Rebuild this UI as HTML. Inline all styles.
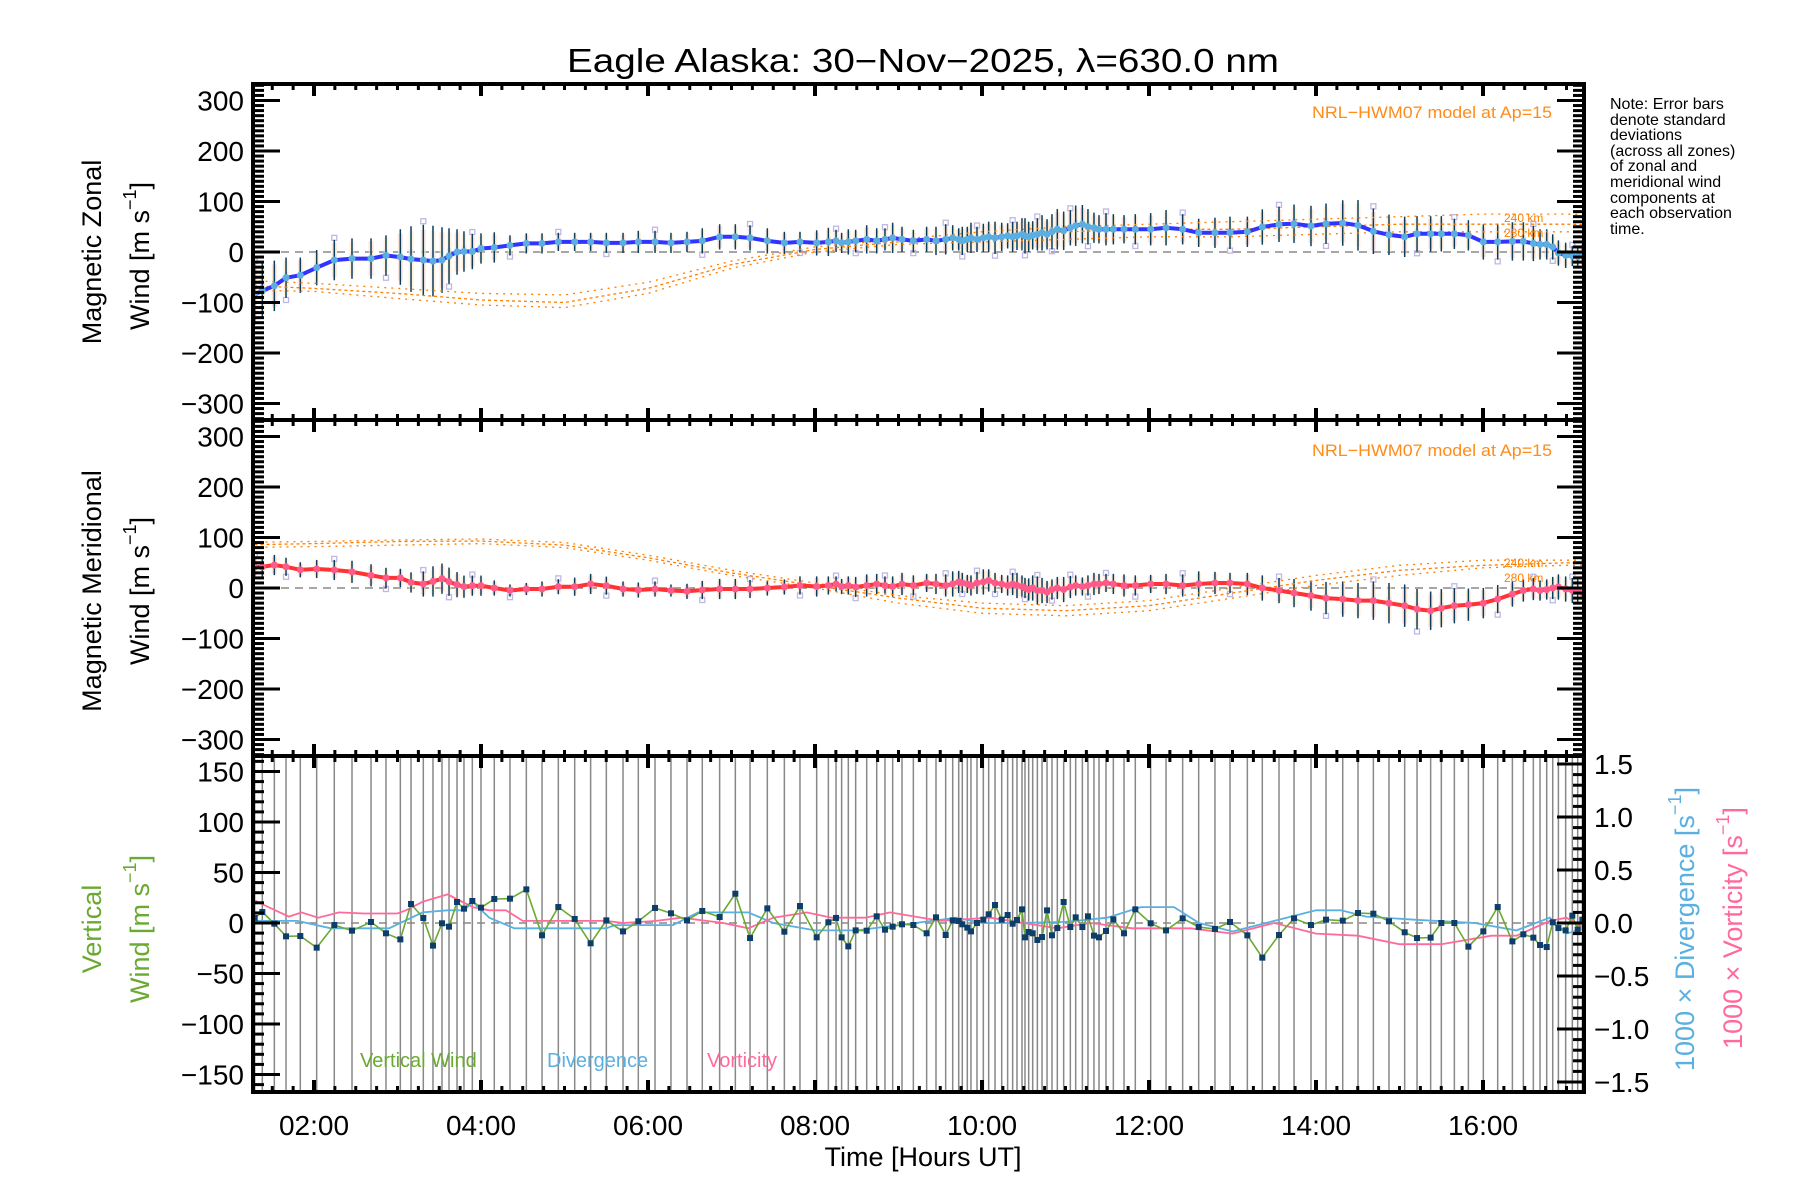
<!DOCTYPE html>
<html><head><meta charset="utf-8">
<style>
html,body{margin:0;padding:0;background:#fff;}
svg{display:block;font-family:"Liberation Sans",sans-serif;}
</style></head>
<body>
<svg id="chart" width="1800" height="1200" viewBox="0 0 1800 1200" xmlns="http://www.w3.org/2000/svg">
<rect width="1800" height="1200" fill="#fff"/>
<text x="923" y="72" font-size="33" text-anchor="middle" textLength="712" lengthAdjust="spacingAndGlyphs">Eagle Alaska: 30−Nov−2025, λ=630.0 nm</text>
<g id="panels"></g>
<g font-size="16">
<text x="1610" y="109">Note: Error bars</text>
<text x="1610" y="125">denote standard</text>
<text x="1610" y="140">deviations</text>
<text x="1610" y="156">(across all zones)</text>
<text x="1610" y="171">of zonal and</text>
<text x="1610" y="187">meridional wind</text>
<text x="1610" y="203">components at</text>
<text x="1610" y="218">each observation</text>
<text x="1610" y="234">time.</text>
</g>
<text x="1312" y="118" font-size="17" fill="#ff8c1a" textLength="240" lengthAdjust="spacingAndGlyphs">NRL−HWM07 model at Ap=15</text>
<text x="1312" y="456" font-size="17" fill="#ff8c1a" textLength="240" lengthAdjust="spacingAndGlyphs">NRL−HWM07 model at Ap=15</text>
<text x="1504" y="222" font-size="12" fill="#ff7f00">240 km</text>
<text x="1504" y="237" font-size="12" fill="#ff7f00">280 km</text>
<text x="1504" y="567" font-size="12" fill="#ff7f00">240 km</text>
<text x="1504" y="582" font-size="12" fill="#ff7f00">280 km</text>
<text transform="translate(92,252) rotate(-90)" font-size="27" text-anchor="middle" dominant-baseline="central">Magnetic Zonal</text>
<text transform="translate(140,256) rotate(-90)" font-size="27" text-anchor="middle" dominant-baseline="central">Wind [m s<tspan font-size="18" dy="-10">−1</tspan><tspan dy="10">]</tspan></text>
<text transform="translate(92,591) rotate(-90)" font-size="27" text-anchor="middle" dominant-baseline="central">Magnetic Meridional</text>
<text transform="translate(140,591) rotate(-90)" font-size="27" text-anchor="middle" dominant-baseline="central">Wind [m s<tspan font-size="18" dy="-10">−1</tspan><tspan dy="10">]</tspan></text>
<text transform="translate(92,929) rotate(-90)" font-size="27" fill="#6aaa30" text-anchor="middle" dominant-baseline="central">Vertical</text>
<text transform="translate(140,929) rotate(-90)" font-size="27" fill="#6aaa30" text-anchor="middle" dominant-baseline="central">Wind [m s<tspan font-size="18" dy="-10">−1</tspan><tspan dy="10">]</tspan></text>
<text transform="translate(1685,929) rotate(-90)" font-size="27" fill="#5ab0e0" text-anchor="middle" dominant-baseline="central">1000 × Divergence [s<tspan font-size="18" dy="-10">−1</tspan><tspan dy="10">]</tspan></text>
<text transform="translate(1733,928) rotate(-90)" font-size="27" fill="#ff6a9a" text-anchor="middle" dominant-baseline="central">1000 × Vorticity [s<tspan font-size="18" dy="-10">−1</tspan><tspan dy="10">]</tspan></text>
<text x="923" y="1166" font-size="27" text-anchor="middle">Time [Hours UT]</text>
<text x="360" y="1067" font-size="20" fill="#6aaa30">Vertical Wind</text>
<text x="547" y="1067" font-size="20" fill="#5ab0e0">Divergence</text>
<text x="707" y="1067" font-size="20" fill="#ff6a9a">Vorticity</text>
</svg>
<script>
// ---- data ----
const obsTimes = [1.29,1.381,1.525,1.665,1.836,2.032,2.243,2.455,2.683,2.862,3.034,3.162,3.309,3.425,3.533,3.617,3.713,3.796,3.896,4.000,4.159,4.347,4.543,4.731,4.926,5.122,5.313,5.501,5.701,5.884,6.084,6.275,6.467,6.650,6.858,7.046,7.222,
7.429,7.633,7.820,8.020,8.160,8.252,8.319,8.399,8.487,8.619,8.739,8.838,8.930,9.042,9.178,9.337,9.449,9.565,9.649,9.721,9.764,9.824,9.868,9.940,10.016,10.080,10.156,10.236,10.307,10.367,10.419,10.479,10.515,10.559,10.607,10.663,10.719,10.779,10.838,10.902,10.978,11.058,11.122,11.202,11.269,11.341,11.401,11.485,11.573,11.701,11.836,12.020,12.204,12.403,12.595,12.790,12.970,13.178,
13.357,13.557,13.737,13.940,14.120,14.320,14.503,14.687,14.874,15.062,15.210,15.373,15.501,15.657,15.825,16.004,16.176,16.352,16.483,16.603,16.683,16.763,16.835,16.903,16.990,17.070,17.134,17.190];
const verticalWind = [5,10.9,-0.7,-13.2,-12.9,-24.4,-2,-7.6,1,-10.2,-16.2,18.8,5,-22.4,-0.3,-3.6,20.8,14.2,21.8,15.2,23.8,24.1,33.3,-12.2,15.8,4,-20.1,2.6,-8.3,1.7,14.9,9.6,2.6,11.9,5.9,29,-14.9,
14.5,-8.6,16.8,-14.2,0.7,5,-14.2,-23.1,-7.3,-7.6,6.6,-6.6,-3.6,-1.3,-2,-10.2,5.6,-11.9,2.6,2,-1.3,-4.6,-8.3,0,3.3,8.6,17.8,3.3,7.9,-0.7,3,13.5,-14.2,-8.9,-10.2,-16.8,-13.9,12.5,-12.2,-5,20.8,-4,5.6,-4,6.6,-12.5,-14.2,-7.9,3.6,-10.2,13.5,-0.3,-7.3,4.6,-4,-5.9,1,-12.2,
-34.3,-11.9,4.6,-2,3.3,2.3,9.9,9.2,1.7,-9.2,-14.9,-14.5,0,0,-23.4,-8.3,15.8,-18.2,-11.2,-14.5,-21.8,-23.8,0.7,-5,-7.3,7.3,-6.6,3.3];
const zonalWind = [-84,-77,-67,-51,-46,-31,-16,-13,-13,-7,-10,-14,-16,-18,-16,-8,0,1,1,7,9,13,17,17,20,20,20,18,18,20,20,18,20,22,30,30,28,
22,18,20,18,20,22,18,20,22,25,22,25,28,25,22,25,22,25,28,25,22,25,28,25,28,30,28,30,32,30,32,35,32,30,33,35,38,35,40,45,42,48,52,55,50,48,45,45,45,45,45,45,48,45,38,38,38,40,
49.5,54.8,56,51.5,56,57.4,52.8,41,34,30,36,36,36,36,33,20,20,21,21,17,15,15,10,-2,-6.6,-8,-9,-5];
const zonalSd = [60,55,50,40,35,35,40,40,40,40,55,65,70,70,65,55,45,40,35,30,30,20,20,20,18,18,18,20,20,22,22,20,20,25,25,25,25,
25,22,20,25,28,22,20,25,22,28,25,22,30,25,22,25,28,30,25,22,28,25,30,25,28,30,32,28,25,30,28,32,35,30,28,32,35,30,35,40,38,35,40,38,35,30,28,32,30,28,30,32,35,30,28,30,32,30,
35,35,38,40,40,45,50,45,40,40,35,35,35,30,30,35,35,38,38,35,30,30,25,25,25,20,20,20];
const meridionalWind = [42,42,45.5,42,36,37.6,35.6,32,25,20,20,11,8,13,18.5,12.5,6.6,2.6,4.6,4.6,0,-5,-2,-2,2.6,2.6,8,4.6,-2,-4,-2,-5,-6.6,-4,-2,-2,-2,
0,2,5,3,5,8,3,5,2,5,8,5,3,8,5,10,8,5,8,12,10,8,5,10,12,15,10,8,5,8,5,3,0,-3,0,-5,-5,-8,-3,0,-3,2,5,3,5,8,8,10,8,5,5,8,8,5,8,10,10,8,
0,-5,-10,-15,-20,-22,-25,-25,-30,-35,-42,-45,-40,-35,-33,-30,-22,-12,-5,-2,-5,-3,0,2,-2,-5,-5,-10];
const meridionalSd = [20,20,20,18,15,18,20,22,22,20,18,20,25,30,30,28,25,22,20,20,15,12,12,15,15,18,20,18,15,15,15,12,15,18,20,20,18,
15,15,18,20,18,15,15,18,20,22,20,18,20,22,20,18,20,22,25,22,20,18,20,22,25,22,20,18,20,22,25,22,20,22,25,28,25,22,20,22,25,22,20,18,20,22,20,18,20,22,20,18,20,22,25,22,20,
22,25,25,28,30,32,35,35,38,40,42,40,38,38,35,32,30,28,25,22,22,20,20,22,25,25,25,25];
const divTimes = [1.27,1.5,1.8,2.2,2.9,3.3,3.6,3.8,3.9,4.1,4.4,5.5,5.6,6.3,6.6,7.2,7.5,8.0,8.5,9.2,9.7,10.0,10.4,11.0,11.5,11.9,12.3,12.6,13.0,13.4,14.0,14.3,14.6,15.2,15.9,16.4,16.8,17.0,17.21];
const divergence = [0.02,0.02,0.02,-0.05,-0.05,0.1,0.12,0.12,0.2,0.05,-0.05,-0.05,-0.02,-0.02,0.1,0.1,0.0,-0.07,-0.07,0.0,0.05,0.0,0.0,0.01,0.05,0.15,0.15,0.0,-0.08,0.0,0.12,0.12,0.06,0.03,0.0,-0.07,0.05,-0.1,-0.05];
const vortTimes = [1.27,1.4,1.7,1.85,2.05,2.3,2.6,3.0,3.1,3.3,3.6,3.9,4.1,4.3,4.5,5.5,5.7,6.1,6.4,6.9,7.2,7.5,7.9,8.2,8.6,8.9,9.5,10.1,10.9,11.3,11.8,12.5,13.0,13.5,14.0,14.5,15.0,15.5,16.1,16.4,16.8,17.0,17.21];
const vorticity = [0.22,0.17,0.06,0.1,0.05,0.1,0.09,0.09,0.12,0.2,0.27,0.15,0.12,0.12,0.02,0.02,0.0,0.02,0.05,0.0,-0.05,0.05,0.1,0.05,0.05,0.1,0.02,0.05,-0.05,0.0,-0.05,-0.05,-0.1,0.0,-0.1,-0.12,-0.2,-0.2,-0.12,-0.12,0.02,0.05,-0.05];
const modelHours = [1,2,3,4,5,6,7,8,9,10,11,12,13,14,15,16,17,18];
const zonalModelA = [-55,-62,-72,-82,-85,-60,-18,10,25,40,50,55,60,65,70,75,75,72];
const zonalModelB = [-65,-72,-82,-95,-100,-72,-25,5,20,30,40,45,45,50,55,55,55,52];
const zonalModelC = [-75,-78,-92,-105,-110,-82,-32,0,15,20,25,30,30,35,40,40,40,38];
const merModelA = [90,92,95,97,90,65,35,10,-15,-30,-35,-25,0,25,45,55,55,55];
const merModelB = [85,88,92,93,85,60,30,5,-20,-40,-45,-35,-10,15,35,45,50,50];
const merModelC = [80,82,85,88,80,55,25,0,-30,-50,-55,-45,-20,5,25,40,45,45];
const zonalTicks = [-300,-200,-100,0,100,200,300];
const vertTicks = [-150,-100,-50,0,50,100,150];
const rightTicks = [-1.5,-1.0,-0.5,0.0,0.5,1.0,1.5];
const timeTicks = [2,4,6,8,10,12,14,16];
const timeLabels = ["02:00","04:00","06:00","08:00","10:00","12:00","14:00","16:00"];

// ---- scales ----
const NS = "http://www.w3.org/2000/svg";
const X0 = 253, X1 = 1584;
const T0 = 2 + (X0 - 314) / 83.5, T1 = 2 + (X1 - 314) / 83.5;
function xs(t){ return 314 + (t - 2) * 83.5; }
const P = {
  zonal: {y0:84, y1:420, zero:252, k:0.505},
  mer:   {y0:420, y1:756, zero:588, k:0.505},
  vert:  {y0:756, y1:1092, zero:923, k:1.01}
};
function ys(p, v){ return p.zero - v * p.k; }
function yr(v){ return 923 - v * 106; }
const root = document.getElementById('panels');
function mk(tag, attrs, parent){
  const e = document.createElementNS(NS, tag);
  for (const k in attrs) e.setAttribute(k, attrs[k]);
  (parent || root).appendChild(e);
  return e;
}
function fmtR(v){ return (v < 0 ? "−" : "") + Math.abs(v).toFixed(1); }
function fmtI(v){ return (v < 0 ? "−" : "") + Math.abs(v); }

const defs = mk('defs', {});
['zonal','mer','vert'].forEach(function(key){
  const p = P[key];
  const cp = mk('clipPath', {id:'clip-'+key}, defs);
  mk('rect', {x:X0, y:p.y0, width:X1-X0, height:p.y1-p.y0}, cp);
});

// ---- wind panels ----
function windPanel(key, values, sds, models, lineColor, dotColor, name){
  const p = P[key];
  const g = mk('g', {'clip-path':'url(#clip-'+key+')'});
  
  
  const zl = mk('line', {x1:X0, x2:X1, y1:p.zero, y2:p.zero, stroke:'#888', 'stroke-width':1.5, 'stroke-dasharray':'8 6'}, g);
  
  
  const zoneCols = ['#fbd2c0','#fde8c0','#d8f4d8','#d8d8f4'];
  for (let i = 0; i < obsTimes.length; i++){
    const x = xs(obsTimes[i]);
    const v = values[i], s = sds[i];
    const box = mk('rect', {x:x-2.5, y:ys(p, v + s*0.85), width:5, height:s*1.7*p.k, fill:zoneCols[i%2], opacity:0.55}, g);
    
    
    const box2 = mk('rect', {x:x-2.5, y:ys(p, v + s*0.3), width:5, height:s*0.4*p.k, fill:zoneCols[2 + (i%2)], opacity:0.5}, g);
    
    
    if (i % 3 === 0){
      const sq = mk('rect', {x:x-2.5, y:ys(p, v + (i%2 ? -1.1 : 1.1)*s)-2.5, width:5, height:5, fill:'none', stroke:'#c0b8e4', 'stroke-width':1.3}, g);
      
      
    }
    const eb = mk('line', {x1:x, x2:x, y1:ys(p, v + s), y2:ys(p, v - s), stroke:'#0d3d5c', 'stroke-width':1.5}, g);
    
    
  }
  models.forEach(function(m, mi){
    const d = m.map(function(v, j){ return (j ? 'L' : 'M') + xs(modelHours[j]).toFixed(1) + ',' + ys(p, v).toFixed(1); }).join(' ');
    const ml = mk('path', {d:d, fill:'none', stroke:'#ff7f00', 'stroke-width':1.3, 'stroke-dasharray': mi === 1 ? '3 3' : '2 5'}, g);
    
    
  });
  const d = values.map(function(v, i){ return (i ? 'L' : 'M') + xs(obsTimes[i]).toFixed(1) + ',' + ys(p, v).toFixed(1); }).join(' ');
  const ln = mk('path', {d:d, fill:'none', stroke:lineColor, 'stroke-width':4, 'stroke-linejoin':'round'}, g);
  
  
  for (let i = 0; i < obsTimes.length; i++){
    const c = mk('circle', {cx:xs(obsTimes[i]), cy:ys(p, values[i]), r:3.5, fill:dotColor}, g);
    
    
  }
}
windPanel('zonal', zonalWind, zonalSd, [zonalModelA, zonalModelB, zonalModelC], '#3333ff', '#5aaee0', 'zonal');
windPanel('mer', meridionalWind, meridionalSd, [merModelA, merModelB, merModelC], '#ff3333', '#ff5a8a', 'meridional');

// ---- vertical panel ----
(function(){
  const p = P.vert;
  const g = mk('g', {'clip-path':'url(#clip-vert)'});
  
  
  for (let i = 0; i < obsTimes.length; i++){
    const x = xs(obsTimes[i]);
    const vl = mk('line', {x1:x, x2:x, y1:p.y0, y2:p.y1, stroke:'#888', 'stroke-width':1.5}, g);
    
    
  }
  const zl = mk('line', {x1:X0, x2:X1, y1:p.zero, y2:p.zero, stroke:'#888', 'stroke-width':1.5, 'stroke-dasharray':'8 6'}, g);
  
  
  const dd = divergence.map(function(v, i){ return (i ? 'L' : 'M') + xs(divTimes[i]).toFixed(1) + ',' + yr(v).toFixed(1); }).join(' ');
  const dl = mk('path', {d:dd, fill:'none', stroke:'#5ab0e0', 'stroke-width':1.8}, g);
  
  
  const vd = vorticity.map(function(v, i){ return (i ? 'L' : 'M') + xs(vortTimes[i]).toFixed(1) + ',' + yr(v).toFixed(1); }).join(' ');
  const vl2 = mk('path', {d:vd, fill:'none', stroke:'#ff6a9a', 'stroke-width':1.8}, g);
  
  
  const wd = verticalWind.map(function(v, i){ return (i ? 'L' : 'M') + xs(obsTimes[i]).toFixed(1) + ',' + ys(p, v).toFixed(1); }).join(' ');
  const wl = mk('path', {d:wd, fill:'none', stroke:'#6aaa30', 'stroke-width':1.6}, g);
  
  
  for (let i = 0; i < obsTimes.length; i++){
    const r = mk('rect', {x:xs(obsTimes[i])-3, y:ys(p, verticalWind[i])-3, width:6, height:6, fill:'#0d3d6b'}, g);
    
    
  }
})();

// ---- axes ----
function axes(key, name){
  const p = P[key];
  const g = mk('g', {stroke:'#000'});
  
  
  for (let t = Math.ceil(T0*4)/4; t <= T1; t += 0.25){
    const x = xs(t);
    const major = Math.abs(t/2 - Math.round(t/2)) < 1e-6;
    const L = major ? 12 : 6;
    const w = major ? 4 : 3;
    const a = mk('line', {x1:x, x2:x, y1:p.y0, y2:p.y0+L, 'stroke-width':w}, g);
    
    
    const b = mk('line', {x1:x, x2:x, y1:p.y1, y2:p.y1-L, 'stroke-width':w}, g);
    
    
  }
  const vmax = (p.zero - p.y0) / p.k;
  const minorStep = 10;
  const majorStep = key === 'vert' ? 50 : 100;
  for (let v = Math.ceil(-vmax/minorStep)*minorStep; v <= vmax; v += minorStep){
    const y = ys(p, v);
    const major = v % majorStep === 0;
    const L = major ? 27 : 11;
    const lt = mk('line', {x1:X0, x2:X0+L, y1:y, y2:y, 'stroke-width':3}, g);
    
    
    if (key !== 'vert'){
      const rt = mk('line', {x1:X1, x2:X1-L, y1:y, y2:y, 'stroke-width':3}, g);
      
      
    }
  }
  if (key === 'vert'){
    for (let r = -15; r <= 15; r++){
      const y = yr(r/10);
      if (y < p.y0 || y > p.y1) continue;
      const L = (r % 5 === 0) ? 27 : 11;
      const rt = mk('line', {x1:X1, x2:X1-L, y1:y, y2:y, 'stroke-width':3}, g);
      
      
    }
  }
  const fr = mk('rect', {x:X0, y:p.y0, width:X1-X0, height:p.y1-p.y0, fill:'none', 'stroke-width':4}, g);
  
  
  const ticks = key === 'vert' ? vertTicks : zonalTicks;
  ticks.forEach(function(v){
    const tx = mk('text', {x:244, y:ys(p, v)+10, 'font-size':28, 'text-anchor':'end', stroke:'none'});
    tx.textContent = fmtI(v);
    
    
  });
}
axes('zonal', 'zonal');
axes('mer', 'meridional');
axes('vert', 'vertical');

rightTicks.forEach(function(v){
  const tx = mk('text', {x:1594, y:yr(v)+10, 'font-size':28});
  tx.textContent = fmtR(v);
  
  
});
timeTicks.forEach(function(t, i){
  const tx = mk('text', {x:xs(t), y:1135, 'font-size':28, 'text-anchor':'middle'});
  tx.textContent = timeLabels[i];
  
  
});
</script>
</body></html>
